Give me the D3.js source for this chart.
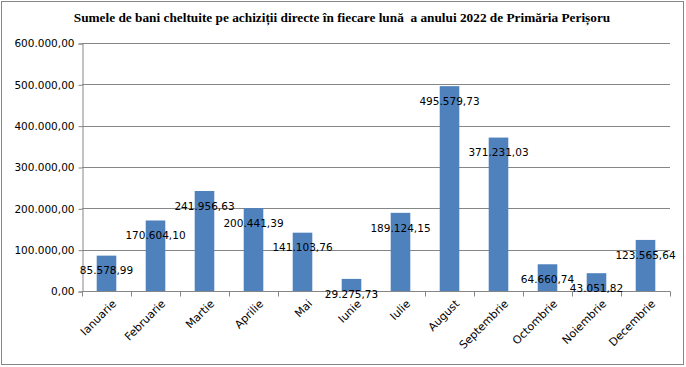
<!DOCTYPE html>
<html>
<head>
<meta charset="utf-8">
<script src="https://cdn.jsdelivr.net/npm/d3@7"></script>
<style>
  body { margin: 0; background: #fff; }
  svg text { font-family: "DejaVu Sans", Verdana, sans-serif; }
</style>
</head>
<body>
<svg id="chart" width="686" height="367"></svg>
<script>
// data
const months = ['Ianuarie', 'Februarie', 'Martie', 'Aprilie', 'Mai', 'Iunie',
  'Iulie', 'August', 'Septembrie', 'Octombrie', 'Noiembrie', 'Decembrie']
const amounts = [85578.99, 170604.10, 241956.63, 200441.39, 141103.76, 29275.73,
  189124.15, 495579.73, 371231.03, 64660.74, 43051.82, 123565.64]
const yTicks = [0, 100000, 200000, 300000, 400000, 500000, 600000]
const title = 'Sumele de bani cheltuite pe achiziții directe în fiecare lună  a anului 2022 de Primăria Perișoru'

const svg = d3.select('#chart')
const plotLeft = 82, plotRight = 670, plotTop = 43, plotBottom = 291
const barColor = '#4F81BD'
const lineColor = '#868686'

// romanian number format: 1.234,56
const ro = d3.formatLocale({ decimal: ',', thousands: '.', grouping: [3], currency: ['', ' lei'] })
const fmt = ro.format(',.2f')

const data = months.map((m, i) => ({ month: m, value: amounts[i] }))

// outer border
svg.append('rect')
  .attr('x', 1.5).attr('y', 1.5)
  .attr('width', 682).attr('height', 363)
  .attr('fill', 'none').attr('stroke', lineColor)

svg.append('text')
  .attr('x', 342).attr('y', 22)
  .attr('text-anchor', 'middle')
  .style('font-family', '"Liberation Serif", "Times New Roman", serif')
  .style('font-weight', 'bold')
  .style('font-size', '13.3px')
  .style('white-space', 'pre')
  .text(title)

const x = d3.scaleBand().domain(months).range([plotLeft, plotRight]).paddingInner(0.6).paddingOuter(0.3)
const y = d3.scaleLinear().domain([0, 600000]).range([plotBottom, plotTop])

// gridlines
svg.append('g')
  .selectAll('line')
  .data(yTicks.slice(1))
  .join('line')
  .attr('x1', plotLeft).attr('x2', plotRight)
  .attr('y1', d => Math.round(y(d)) + 0.5).attr('y2', d => Math.round(y(d)) + 0.5)
  .attr('stroke', lineColor)

// y axis
const yAxis = svg.append('g')
  .attr('transform', `translate(${plotLeft + 0.5},0.5)`)
  .call(d3.axisLeft(y).tickValues(yTicks).tickFormat(fmt).tickSizeOuter(0).tickSize(4).tickPadding(4))
yAxis.selectAll('line, path').attr('stroke', lineColor)
yAxis.selectAll('text').style('font-size', '10.5px').attr('fill', '#000')

// bars
svg.append('g')
  .selectAll('rect')
  .data(data)
  .join('rect')
  .attr('x', d => x(d.month))
  .attr('width', x.bandwidth())
  .attr('y', d => y(d.value))
  .attr('height', d => y(0) - y(d.value))
  .attr('fill', barColor)

// x axis, ticks at band boundaries
const x0 = d3.scaleLinear().domain([0, months.length]).range([plotLeft, plotRight])
const xAxis = svg.append('g').attr('transform', `translate(0.5,${plotBottom + 0.5})`)
xAxis.append('line').attr('x1', plotLeft).attr('x2', plotRight).attr('stroke', lineColor)
xAxis.selectAll('.tk')
  .data(d3.range(months.length + 1))
  .join('line')
  .attr('class', 'tk')
  .attr('x1', d => Math.round(x0(d))).attr('x2', d => Math.round(x0(d)))
  .attr('y1', 0).attr('y2', 5)
  .attr('stroke', lineColor)

svg.append('g')
  .selectAll('text')
  .data(data)
  .join('text')
  .attr('text-anchor', 'end')
  .attr('transform', d => `translate(${x(d.month) + x.bandwidth() / 2 + 5},${plotBottom + 8}) rotate(-45)`)
  .attr('dy', '0.7em')
  .style('font-size', '11px')
  .text(d => d.month)

// value labels (inside end)
svg.append('g')
  .selectAll('text')
  .data(data)
  .join('text')
  .attr('x', d => x(d.month) + x.bandwidth() / 2)
  .attr('y', d => y(d.value) + 15)
  .attr('text-anchor', 'middle')
  .attr('dy', '0.35em')
  .style('font-size', '10.5px')
  .text(d => fmt(d.value))
</script>
</body>
</html>
